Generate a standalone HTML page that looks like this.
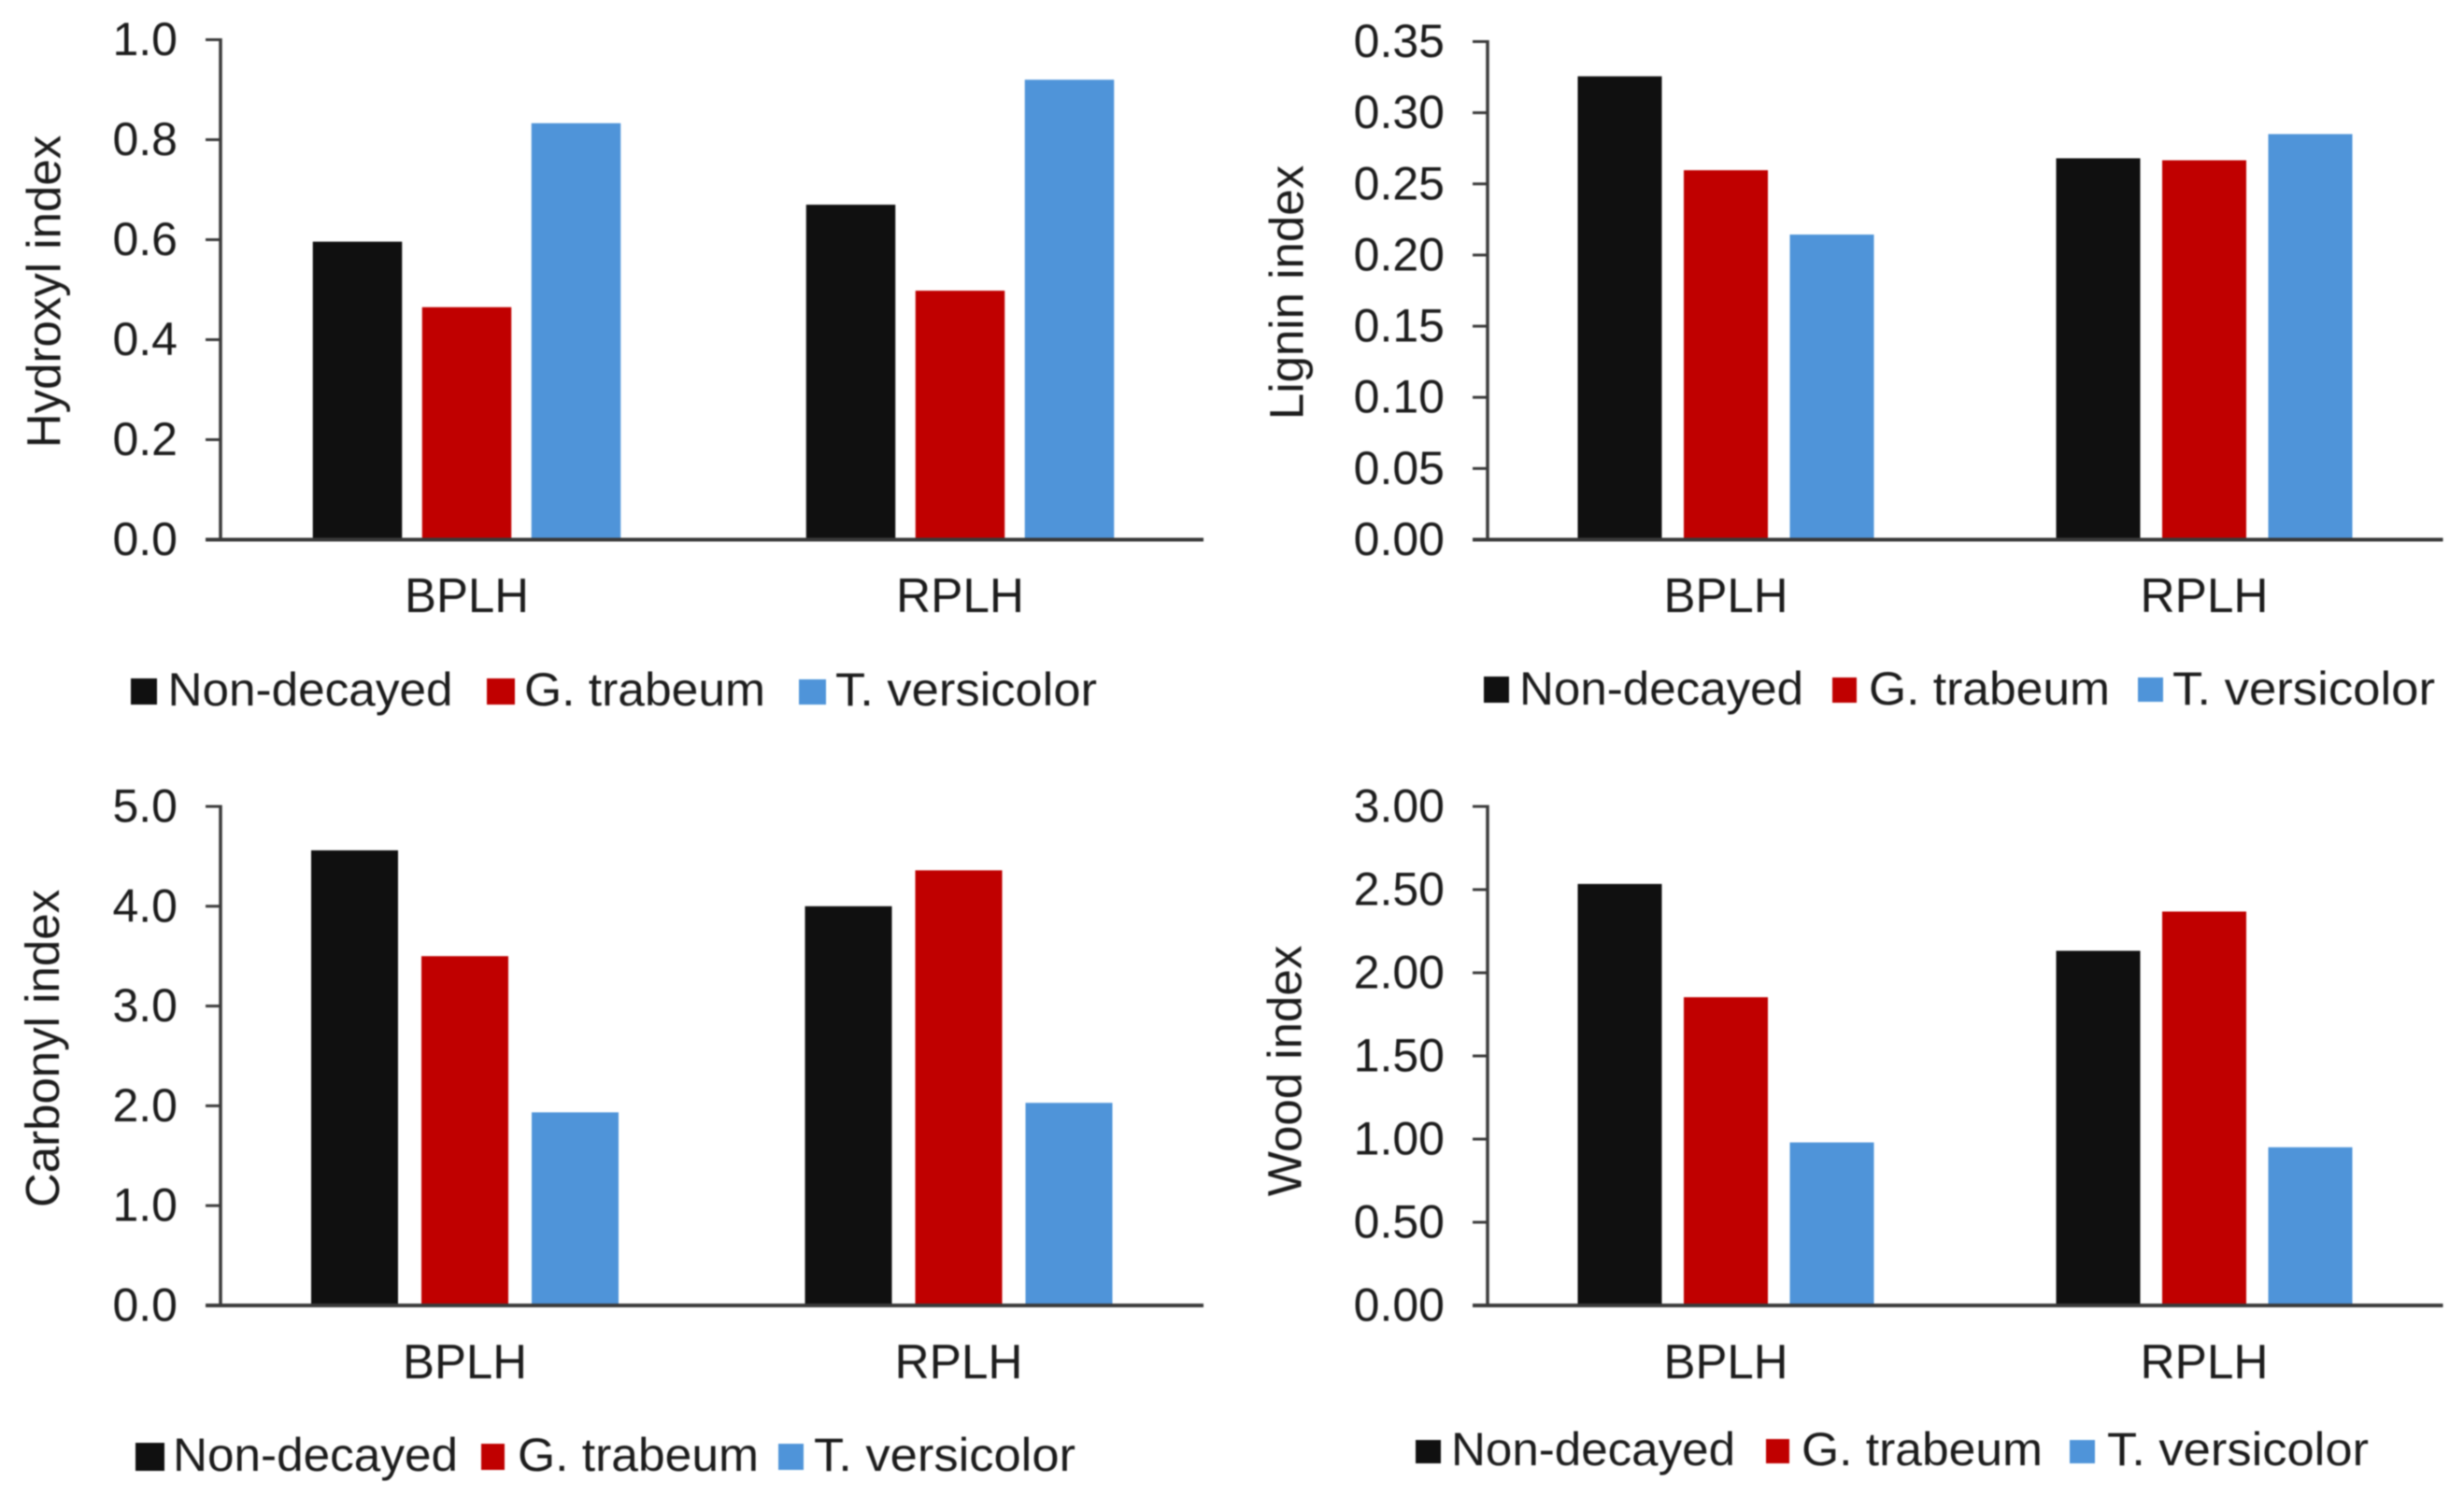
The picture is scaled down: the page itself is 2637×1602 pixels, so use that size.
<!DOCTYPE html>
<html lang="en">
<head>
<meta charset="utf-8">
<title>Wood chemical indices by decay treatment</title>
<style>
html,body{margin:0;padding:0;background:#fff;}
svg{display:block;filter:blur(0.7px);}
text{font-family:"Liberation Sans",Arial,sans-serif;fill:#1c1c1c;}
</style>
</head>
<body>
<svg id="figure" xmlns="http://www.w3.org/2000/svg" width="2637" height="1602" viewBox="0 0 2637 1602"></svg>
<script>
const categories = ['BPLH', 'RPLH'];
const seriesNames = ['Non-decayed', 'G. trabeum', 'T. versicolor'];
const seriesColors = ['#101010', '#c00000', '#4f94d9'];

const hydroxylNonDecayed = [0.596, 0.670];
const hydroxylTrabeum = [0.465, 0.498];
const hydroxylVersicolor = [0.833, 0.920];
const hydroxylTicks = ['0.0', '0.2', '0.4', '0.6', '0.8', '1.0'];

const ligninNonDecayed = [0.3256, 0.268];
const ligninTrabeum = [0.2596, 0.2666];
const ligninVersicolor = [0.2144, 0.285];
const ligninTicks = ['0.00', '0.05', '0.10', '0.15', '0.20', '0.25', '0.30', '0.35'];

const carbonylNonDecayed = [4.56, 4.00];
const carbonylTrabeum = [3.50, 4.36];
const carbonylVersicolor = [1.935, 2.03];
const carbonylTicks = ['0.0', '1.0', '2.0', '3.0', '4.0', '5.0'];

const woodNonDecayed = [2.534, 2.132];
const woodTrabeum = [1.853, 2.368];
const woodVersicolor = [0.98, 0.951];
const woodTicks = ['0.00', '0.50', '1.00', '1.50', '2.00', '2.50', '3.00'];

const svgNS = 'http://www.w3.org/2000/svg';
const figure = document.getElementById('figure');

function make(parent, tag, attrs, content) {
  const el = document.createElementNS(svgNS, tag);
  for (const k in attrs) el.setAttribute(k, attrs[k]);
  if (content !== undefined) el.textContent = content;
  parent.appendChild(el);
  return el;
}

function drawPanel(p) {
  const g = make(figure, 'g', {});
  
  

  const yMax = parseFloat(p.ticks[p.ticks.length - 1]);
  const yScale = v => p.yZero - (v / yMax) * (p.yZero - p.yTop);
  const xCenter = i => p.bandLeft + p.bandW * (i + 0.5);

  // bars
  p.series.forEach((values, s) => {
    values.forEach((v, c) => {
      const cx = xCenter(c) + (s - 1) * p.step;
      const bar = make(g, 'rect', {
        x: cx - p.barW / 2,
        y: yScale(v),
        width: p.barW,
        height: p.yZero - yScale(v),
        fill: seriesColors[s]
      });
      
      
    });
  });

  // axes
  const yAxis = make(g, 'line', {x1: p.axisX, x2: p.axisX, y1: p.yTop - 1.5, y2: p.yZero, stroke: '#3a3a3a', 'stroke-width': 3.5});
  
  
  const xAxis = make(g, 'line', {x1: p.axisX - 16, x2: p.axisRight, y1: p.yZero, y2: p.yZero, stroke: '#3a3a3a', 'stroke-width': 4});
  
  

  // y ticks and labels
  p.ticks.forEach(t => {
    const y = yScale(parseFloat(t));
    const tick = make(g, 'line', {x1: p.axisX - 16, x2: p.axisX, y1: y, y2: y, stroke: '#3a3a3a', 'stroke-width': 3});
    
    
    const label = make(g, 'text', {
      x: p.tickRight, y: y + 16.5, 'font-size': 50, 'text-anchor': 'end'
    }, t);
    
    
  });

  // category labels
  categories.forEach((c, i) => {
    const w = c === 'BPLH' ? 133 : 137;
    const label = make(g, 'text', {
      x: xCenter(i) - w / 2, y: p.catY, 'font-size': 52,
      textLength: w, lengthAdjust: 'spacingAndGlyphs'
    }, c);
    
    
  });

  // y-axis title
  const title = make(g, 'text', {
    'font-size': 51, 'text-anchor': 'middle',
    transform: 'translate(' + p.titleX + ',' + p.titleY + ') rotate(-90)',
    'xml:space': 'preserve'
  }, p.title);
  
  

  // legend
  p.legend.forEach((e, i) => {
    const entry = make(g, 'g', {});
    
    
    const swatch = make(entry, 'rect', {x: e.sx, y: e.sy, width: e.sw, height: e.sh, fill: seriesColors[i]});
    
    
    const label = make(entry, 'text', {
      x: e.tx, y: p.legY, 'font-size': 50,
      textLength: e.tw, lengthAdjust: 'spacingAndGlyphs'
    }, seriesNames[i]);
    
    
  });
}

drawPanel({
  name: 'hydroxyl', title: 'Hydroxyl  index', ticks: hydroxylTicks,
  series: [hydroxylNonDecayed, hydroxylTrabeum, hydroxylVersicolor],
  axisX: 236, axisRight: 1288, yTop: 42.5, yZero: 577.5,
  bandLeft: 235.5, bandW: 528, barW: 95.5, step: 117,
  tickRight: 190, catY: 655, titleX: 64.5, titleY: 312, legY: 755,
  legend: [
    {sx: 140, sy: 726, sw: 28, sh: 28, tx: 179.5, tw: 305},
    {sx: 521, sy: 726, sw: 30, sh: 28, tx: 561, tw: 258},
    {sx: 855, sy: 727, sw: 29, sh: 27, tx: 894, tw: 280}
  ]
});

drawPanel({
  name: 'lignin', title: 'Lignin index', ticks: ligninTicks,
  series: [ligninNonDecayed, ligninTrabeum, ligninVersicolor],
  axisX: 1592, axisRight: 2614.5, yTop: 44.5, yZero: 577.5,
  bandLeft: 1591, bandW: 512, barW: 90, step: 113.5,
  tickRight: 1546, catY: 655, titleX: 1394.5, titleY: 313, legY: 754,
  legend: [
    {sx: 1588, sy: 724, sw: 27, sh: 28, tx: 1626, tw: 304},
    {sx: 1961, sy: 725, sw: 26, sh: 27, tx: 2000, tw: 258},
    {sx: 2288, sy: 725, sw: 27, sh: 26, tx: 2325, tw: 281}
  ]
});

drawPanel({
  name: 'carbonyl', title: 'Carbonyl index', ticks: carbonylTicks,
  series: [carbonylNonDecayed, carbonylTrabeum, carbonylVersicolor],
  axisX: 236, axisRight: 1288, yTop: 863, yZero: 1397,
  bandLeft: 233.25, bandW: 528.5, barW: 93, step: 118,
  tickRight: 190, catY: 1475, titleX: 63, titleY: 1122, legY: 1574,
  legend: [
    {sx: 145, sy: 1544, sw: 31, sh: 30, tx: 185, tw: 305},
    {sx: 515, sy: 1545, sw: 25, sh: 28, tx: 554, tw: 258},
    {sx: 833, sy: 1545, sw: 27, sh: 28, tx: 871, tw: 280}
  ]
});

drawPanel({
  name: 'wood', title: 'Wood index', ticks: woodTicks,
  series: [woodNonDecayed, woodTrabeum, woodVersicolor],
  axisX: 1592, axisRight: 2614.5, yTop: 863, yZero: 1397,
  bandLeft: 1591, bandW: 512, barW: 90, step: 113.5,
  tickRight: 1546, catY: 1475, titleX: 1392.5, titleY: 1146, legY: 1568,
  legend: [
    {sx: 1515, sy: 1541, sw: 27, sh: 25, tx: 1553, tw: 304},
    {sx: 1890, sy: 1540, sw: 25, sh: 26, tx: 1928, tw: 258},
    {sx: 2215, sy: 1541, sw: 27, sh: 25, tx: 2255, tw: 280}
  ]
});
</script>
</body>
</html>
